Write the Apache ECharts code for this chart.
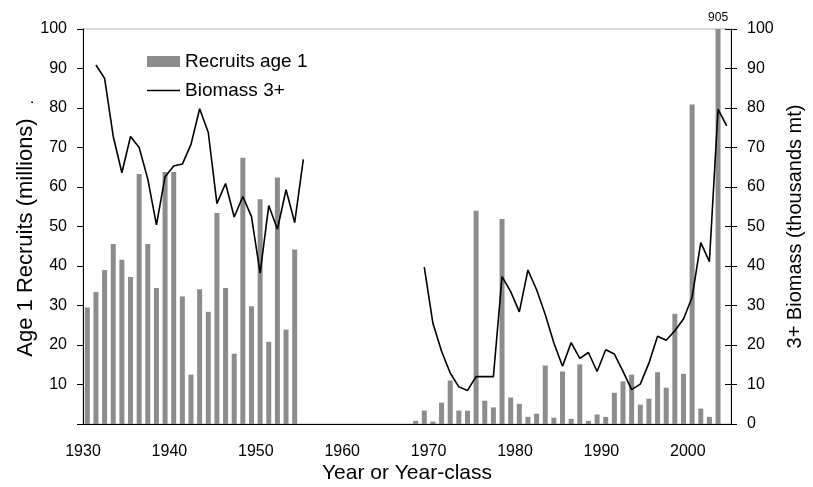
<!DOCTYPE html>
<html>
<head>
<meta charset="utf-8">
<script src="https://cdn.jsdelivr.net/npm/echarts@6/dist/echarts.min.js"></script>
<style>
  html, body { margin: 0; padding: 0; background: #fff; }
  #chart { width: 813px; height: 487px; }
</style>
</head>
<body>
<div id="chart"></div>
<script>
// year classes on the x axis
const years = [
  '1930','1931','1932','1933','1934','1935','1936','1937','1938','1939',
  '1940','1941','1942','1943','1944','1945','1946','1947','1948','1949',
  '1950','1951','1952','1953','1954','1955','1956','1957','1958','1959',
  '1960','1961','1962','1963','1964','1965','1966','1967','1968','1969',
  '1970','1971','1972','1973','1974','1975','1976','1977','1978','1979',
  '1980','1981','1982','1983','1984','1985','1986','1987','1988','1989',
  '1990','1991','1992','1993','1994','1995','1996','1997','1998','1999',
  '2000','2001','2002','2003','2004'
];

// age 1 recruits (millions)
const recruits = [
  29.5, 33.4, 39.0, 45.6, 41.6, 37.2, 63.3, 45.6, 34.4, 63.8,
  63.8, 32.3, 12.5, 34.1, 28.4, 53.4, 34.4, 17.8, 67.4, 29.8,
  56.9, 20.8, 62.4, 23.9, 44.2, null, null, null, null, null,
  null, null, null, null, null, null, null, null, 0.8, 3.4,
  0.6, 5.4, 11.0, 3.4, 3.4, 54.0, 5.9, 4.2, 51.9, 6.7,
  5.1, 1.8, 2.6, 14.8, 1.6, 13.3, 1.3, 15.1, 0.8, 2.4,
  1.8, 7.9, 10.8, 12.5, 4.9, 6.4, 13.1, 9.2, 27.9, 12.7,
  80.9, 3.9, 1.8, 905, null
];

// 3+ biomass (thousands mt)
const biomass = [
  null, 90.9, 87.5, 72.8, 63.6, 72.8, 70.0, 62.0, 50.4, 62.6,
  65.3, 65.8, 70.8, 79.8, 73.8, 55.8, 60.9, 52.4, 57.6, 52.5,
  38.2, 55.3, 49.3, 59.3, 51.0, 67.0, null, null, null, null,
  null, null, null, null, null, null, null, null, null, 39.7,
  25.5, 18.4, 12.9, 9.4, 8.5, 12.0, 12.0, 12.0, 37.3, 33.5,
  28.4, 39.0, 34.0, 27.7, 20.5, 14.6, 20.6, 16.6, 18.1, 13.3,
  18.8, 17.7, 13.3, 8.7, 10.1, 15.4, 22.2, 21.2, 23.6, 26.6,
  32.1, 45.9, 41.1, 79.7, 75.5
];

const font = '"Liberation Sans", Arial, sans-serif';

const chart = echarts.init(document.getElementById('chart'));

const option = {
  animation: false,
  textStyle: { fontFamily: font, color: '#000' },
  grid: {
    left: 83, right: 82, top: 29, bottom: 63,
    outerBoundsMode: 'none',
    show: true, borderColor: '#b3b3b3', borderWidth: 1
  },
  legend: {
    data: [
      { name: 'Recruits age 1', icon: 'rect' },
      { name: 'Biomass 3+', icon: 'path://M0,0H100V5H0Z' }
    ],
    orient: 'vertical',
    left: 142, top: 47,
    itemWidth: 33, itemHeight: 11, itemGap: 10,
    textStyle: { fontFamily: font, fontSize: 19, color: '#000' }
  },
  xAxis: {
    type: 'category',
    data: years,
    name: 'Year or Year-class',
    nameLocation: 'middle',
    nameGap: 39,
    nameMoveOverlap: false,
    nameTextStyle: { fontFamily: font, fontSize: 21, color: '#000' },
    axisLine: { lineStyle: { color: '#000', width: 1 } },
    axisTick: { interval: 9, alignWithLabel: false, length: 6, lineStyle: { color: '#000' } },
    axisLabel: { interval: 9, margin: 20, fontSize: 16, color: '#000', padding: [0, 8.6, 0, 0] }
  },
  yAxis: [
    {
      type: 'value', min: 0, max: 100, interval: 10, position: 'left',
      name: 'Age 1 Recruits (millions)',
      nameLocation: 'middle', nameRotate: 90, nameGap: 46,
      nameMoveOverlap: false,
      nameTextStyle: { fontFamily: font, fontSize: 22, color: '#000', padding: [0, 22, 0, 0] },
      axisLine: { show: true, lineStyle: { color: '#000' } },
      axisTick: { show: true, length: 6, lineStyle: { color: '#000' } },
      axisLabel: { margin: 16, fontSize: 16, color: '#000', formatter: v => (v === 0 ? '' : v) },
      splitLine: { show: false }
    },
    {
      type: 'value', min: 0, max: 100, interval: 10, position: 'right',
      name: '3+ Biomass (thousands mt)',
      nameLocation: 'middle', nameRotate: 90, nameGap: 54,
      nameMoveOverlap: false,
      nameTextStyle: { fontFamily: font, fontSize: 20, color: '#000' },
      axisLine: { show: true, lineStyle: { color: '#000' } },
      axisTick: { show: true, length: 6, lineStyle: { color: '#000' } },
      axisLabel: { margin: 16, fontSize: 16, color: '#000' },
      splitLine: { show: false }
    },
    {
      // inner half of the crossing ticks on the right axis
      type: 'value', min: 0, max: 100, interval: 10, position: 'right',
      axisLine: { show: false },
      axisTick: { show: true, inside: true, length: 6, lineStyle: { color: '#000' } },
      axisLabel: { show: false },
      splitLine: { show: false }
    }
  ],
  graphic: [
    {
      type: 'text', left: 21, top: 100, rotation: Math.PI / 2,
      style: { text: '.', fontFamily: font, fontSize: 16, fill: '#000' }
    }
  ],
  series: [
    {
      name: 'Recruits age 1',
      type: 'bar',
      yAxisIndex: 0,
      data: recruits,
      barWidth: 5,
      clip: true,
      itemStyle: { color: '#8c8c8c' },
      markPoint: {
        symbol: 'rect', symbolSize: 0,
        label: { show: true, position: 'top', distance: 5, fontSize: 12, color: '#000', formatter: '{c}' },
        data: [{ coord: ['2003', 100], value: recruits[years.indexOf('2003')] }]
      }
    },
    {
      name: 'Biomass 3+',
      type: 'line',
      yAxisIndex: 1,
      data: biomass,
      symbol: 'none',
      connectNulls: false,
      lineStyle: { color: '#000', width: 1.6 },
      itemStyle: { color: '#000' }
    }
  ]
};

chart.setOption(option);
</script>
</body>
</html>
